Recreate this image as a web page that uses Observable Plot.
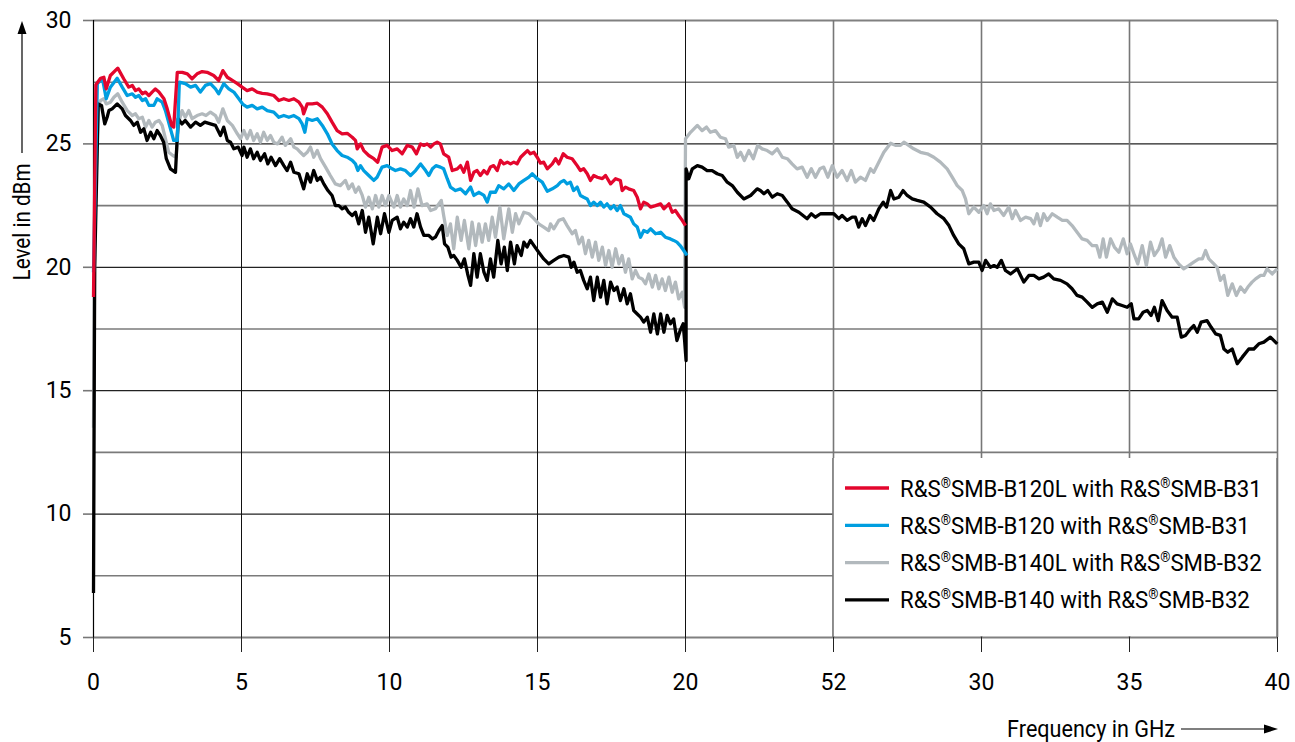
<!DOCTYPE html>
<html><head><meta charset="utf-8">
<script src="https://cdn.jsdelivr.net/npm/d3@7"></script>
<script src="https://cdn.jsdelivr.net/npm/@observablehq/plot@0.6"></script>
<style>
html,body{margin:0;padding:0;background:#fff;}
#chart{position:relative;width:1295px;height:742px;}
</style></head><body><div id="chart"></div>
<script>
const seriesNames = ["R&S®SMB-B120L with R&S®SMB-B31","R&S®SMB-B120 with R&S®SMB-B31","R&S®SMB-B140L with R&S®SMB-B32","R&S®SMB-B140 with R&S®SMB-B32"];
const seriesColors = ["#e3062d","#009ee0","#b2b9bd","#000000"];
const xTicks = [0,5,10,15,20,25,30,35,40];
const xTickLabels = ["0","5","10","15","20","52","30","35","40"];
const yTicks = [5,10,15,20,25,30];
const yHalfGrid = [7.5,12.5,17.5,22.5,27.5];
const xTitle = "Frequency in GHz";
const yTitle = "Level in dBm";

// [frequency GHz, level dBm]
const red = [[0,18.8],[0.08,27.4],[0.24,27.66],[0.35,27.7],[0.43,27.23],[0.57,27.77],[0.82,28.07],[1.02,27.64],[1.19,27.3],[1.31,27.37],[1.42,27.16],[1.53,27.23],[1.65,27.03],[1.76,27.1],[1.87,26.96],[1.98,27.1],[2.09,27.23],[2.21,27.1],[2.38,26.83],[2.49,26.42],[2.64,25.75],[2.71,25.68],[2.83,27.9],[3.0,27.9],[3.17,27.84],[3.33,27.64],[3.5,27.84],[3.67,27.93],[3.84,27.9],[4.06,27.77],[4.23,27.57],[4.37,27.97],[4.52,27.7],[4.69,27.57],[4.86,27.44],[5.02,27.3],[5.19,27.16],[5.36,27.23],[5.53,27.1],[5.7,27.05],[5.87,27.03],[6.09,26.96],[6.26,26.76],[6.43,26.83],[6.6,26.76],[6.77,26.83],[6.94,26.69],[7.05,26.49],[7.1,26.22],[7.22,26.62],[7.39,26.62],[7.56,26.65],[7.73,26.49],[7.9,26.22],[8.06,25.88],[8.23,25.54],[8.4,25.41],[8.57,25.43],[8.74,25.27],[8.85,25.14],[8.91,24.8],[9.02,25.0],[9.13,24.73],[9.3,24.53],[9.47,24.4],[9.6,24.26],[9.75,24.87],[9.92,24.94],[10.09,24.73],[10.26,24.8],[10.43,24.6],[10.6,24.94],[10.77,24.87],[10.91,24.6],[11.05,25.0],[11.16,24.94],[11.27,25.0],[11.39,24.87],[11.5,25.0],[11.61,25.07],[11.72,25.0],[11.83,24.6],[12.0,24.46],[12.12,23.92],[12.29,23.99],[12.4,24.12],[12.51,23.85],[12.63,24.26],[12.74,23.52],[12.85,23.85],[12.96,23.92],[13.07,23.72],[13.19,23.92],[13.3,23.79],[13.41,24.06],[13.52,24.12],[13.64,23.92],[13.75,24.33],[13.86,24.19],[13.98,24.26],[14.09,24.19],[14.2,24.26],[14.31,24.19],[14.43,24.46],[14.55,24.6],[14.66,24.73],[14.76,24.6],[14.88,24.66],[14.99,24.46],[15.1,24.22],[15.21,24.26],[15.33,23.99],[15.5,24.19],[15.61,24.4],[15.72,24.19],[15.87,24.6],[16.0,24.46],[16.17,24.4],[16.34,24.12],[16.45,23.92],[16.56,23.99],[16.68,23.79],[16.79,23.52],[16.9,23.72],[17.02,23.65],[17.19,23.59],[17.3,23.72],[17.47,23.38],[17.64,23.59],[17.8,23.52],[17.86,23.11],[17.97,23.25],[18.08,23.18],[18.25,23.11],[18.37,22.84],[18.48,22.37],[18.59,22.64],[18.71,22.57],[18.82,22.44],[18.99,22.5],[19.16,22.57],[19.27,22.37],[19.44,22.57],[19.55,22.23],[19.66,22.3],[19.77,22.1],[19.89,21.9],[20.0,21.69]];

const blue = [[0,19.8],[0.13,27.44],[0.24,27.57],[0.31,27.6],[0.43,26.83],[0.57,27.3],[0.8,27.66],[0.97,27.3],[1.14,26.96],[1.31,27.03],[1.42,26.89],[1.53,26.96],[1.65,26.76],[1.76,26.83],[1.87,26.56],[2.04,26.56],[2.15,26.83],[2.32,26.69],[2.43,26.35],[2.6,25.61],[2.71,25.14],[2.83,25.14],[2.9,27.5],[3.1,27.44],[3.28,27.3],[3.45,27.37],[3.61,27.1],[3.78,27.37],[3.95,27.44],[4.12,27.23],[4.23,27.03],[4.4,27.44],[4.57,27.23],[4.74,27.1],[4.91,26.83],[5.05,26.6],[5.19,26.49],[5.36,26.56],[5.53,26.42],[5.7,26.49],[5.87,26.35],[6.09,26.29],[6.26,26.08],[6.43,26.15],[6.6,26.08],[6.77,26.15],[6.94,26.02],[7.05,25.81],[7.14,25.47],[7.22,26.02],[7.39,25.95],[7.56,26.02],[7.73,25.75],[7.9,25.41],[8.06,25.0],[8.23,24.73],[8.4,24.53],[8.57,24.46],[8.74,24.33],[8.85,24.19],[8.93,23.92],[9.02,24.12],[9.13,23.92],[9.3,23.72],[9.47,23.52],[9.58,23.65],[9.75,24.06],[9.92,24.12],[10.09,23.99],[10.2,23.92],[10.37,23.99],[10.54,23.92],[10.71,23.72],[10.88,23.92],[11.05,24.19],[11.22,23.92],[11.33,23.72],[11.45,23.99],[11.57,24.12],[11.72,24.06],[11.83,23.99],[11.95,23.59],[12.06,23.25],[12.23,23.11],[12.4,23.18],[12.57,22.98],[12.74,23.25],[12.85,22.91],[13.02,23.04],[13.19,22.91],[13.3,22.64],[13.41,23.04],[13.58,23.04],[13.69,23.31],[13.86,23.18],[14.03,23.38],[14.2,23.11],[14.37,23.38],[14.54,23.52],[14.71,23.65],[14.82,23.79],[14.99,23.59],[15.16,23.45],[15.33,23.08],[15.5,23.18],[15.67,23.31],[15.78,23.45],[15.89,23.52],[16.0,23.38],[16.11,23.45],[16.22,23.11],[16.34,23.25],[16.45,22.91],[16.56,22.84],[16.68,22.77],[16.79,22.5],[16.9,22.64],[17.02,22.5],[17.13,22.64],[17.24,22.44],[17.35,22.57],[17.47,22.37],[17.58,22.5],[17.69,22.3],[17.8,22.5],[17.92,22.17],[18.03,22.1],[18.14,22.03],[18.25,21.76],[18.37,21.63],[18.48,21.22],[18.59,21.49],[18.71,21.42],[18.82,21.56],[18.99,21.36],[19.16,21.42],[19.32,21.22],[19.49,21.15],[19.6,21.09],[19.71,21.02],[19.82,20.88],[19.94,20.68],[20.05,20.48]];

const gray = [[0,13.5],[0.05,22.0],[0.16,26.56],[0.24,26.76],[0.35,26.83],[0.43,26.62],[0.57,26.69],[0.69,26.89],[0.82,27.03],[0.97,26.69],[1.14,26.35],[1.31,26.15],[1.42,26.22],[1.53,26.02],[1.65,26.08],[1.76,25.68],[1.87,25.95],[1.98,25.68],[2.09,25.88],[2.21,25.95],[2.32,25.75],[2.43,25.21],[2.54,24.66],[2.68,24.53],[2.79,24.46],[2.88,25.88],[2.99,26.35],[3.1,26.08],[3.22,26.35],[3.33,26.02],[3.5,26.15],[3.67,26.22],[3.8,26.15],[3.95,26.29],[4.12,26.15],[4.23,25.88],[4.37,26.42],[4.52,25.95],[4.69,25.75],[4.86,25.41],[4.97,25.21],[5.08,25.54],[5.19,25.21],[5.3,25.54],[5.41,25.14],[5.53,25.41],[5.64,25.07],[5.75,25.47],[5.87,25.14],[5.98,25.34],[6.09,25.07],[6.22,25.0],[6.37,25.27],[6.48,24.94],[6.66,25.21],[6.77,24.87],[6.88,24.8],[6.99,24.66],[7.1,24.53],[7.22,24.66],[7.33,24.87],[7.44,24.46],[7.56,24.73],[7.67,24.4],[7.84,24.06],[8.0,23.72],[8.17,23.38],[8.34,23.31],[8.51,23.52],[8.62,23.18],[8.74,23.38],[8.85,23.04],[8.96,23.25],[9.08,22.91],[9.19,22.44],[9.3,22.84],[9.42,22.37],[9.53,22.91],[9.64,22.44],[9.75,22.91],[9.86,22.5],[9.98,22.91],[10.15,22.44],[10.26,22.91],[10.37,22.44],[10.48,22.77],[10.6,22.5],[10.71,23.11],[10.83,22.44],[10.96,23.18],[11.1,22.5],[11.27,22.57],[11.39,22.3],[11.55,22.37],[11.75,22.71],[11.83,22.1],[11.95,21.29],[12.06,21.76],[12.17,20.75],[12.29,22.03],[12.42,21.09],[12.53,21.9],[12.68,20.75],[12.79,21.83],[12.91,20.88],[13.02,21.76],[13.13,21.02],[13.24,21.76],[13.35,21.09],[13.47,22.03],[13.58,21.22],[13.73,22.44],[13.86,21.15],[14.03,22.37],[14.15,21.42],[14.26,22.17],[14.37,21.76],[14.54,22.23],[14.71,22.17],[14.88,21.97],[15.04,21.76],[15.21,21.63],[15.38,21.49],[15.44,21.76],[15.55,21.56],[15.72,21.9],[15.87,21.97],[16.0,21.69],[16.17,21.36],[16.28,21.49],[16.4,20.95],[16.51,21.22],[16.62,20.55],[16.73,21.09],[16.85,20.41],[16.96,21.02],[17.07,20.28],[17.19,20.82],[17.3,20.07],[17.41,20.68],[17.52,20.0],[17.64,20.75],[17.75,20.14],[17.86,20.48],[17.97,19.8],[18.08,20.34],[18.2,19.53],[18.31,19.87],[18.42,19.6],[18.54,19.53],[18.65,19.33],[18.76,19.73],[18.88,19.2],[18.99,19.67],[19.1,19.13],[19.21,19.53],[19.32,19.06],[19.44,19.6],[19.55,18.99],[19.66,19.4],[19.77,18.72],[19.89,18.99],[19.97,18.38],[20.0,25.21],[20.17,25.47],[20.4,25.75],[20.56,25.54],[20.71,25.68],[20.84,25.47],[21.01,25.54],[21.18,25.27],[21.35,25.21],[21.46,24.87],[21.63,24.94],[21.75,24.46],[21.86,24.66],[21.99,24.33],[22.14,24.73],[22.29,24.4],[22.44,24.94],[22.59,24.8],[22.76,24.73],[22.93,24.6],[23.1,24.8],[23.27,24.46],[23.44,24.4],[23.6,24.19],[23.77,23.99],[23.94,24.06],[24.11,23.65],[24.25,23.99],[24.39,23.65],[24.54,23.99],[24.67,24.06],[24.81,23.65],[24.96,24.12],[25.12,23.65],[25.29,23.92],[25.46,23.52],[25.6,23.92],[25.74,23.45],[25.91,23.65],[26.08,23.52],[26.25,23.99],[26.36,23.85],[26.53,24.26],[26.7,24.66],[26.93,25.03],[27.09,24.94],[27.26,24.94],[27.38,25.07],[27.54,24.94],[27.71,24.8],[27.94,24.66],[28.17,24.6],[28.39,24.46],[28.61,24.26],[28.84,23.99],[29.01,23.65],[29.18,23.31],[29.35,23.11],[29.46,22.77],[29.57,22.17],[29.74,22.44],[29.91,22.23],[30.08,22.5],[30.19,22.17],[30.3,22.57],[30.42,22.3],[30.58,22.37],[30.75,22.1],[30.92,22.44],[31.04,21.97],[31.15,22.3],[31.32,21.9],[31.49,22.03],[31.66,21.97],[31.77,21.76],[31.88,22.17],[31.99,21.69],[32.1,22.17],[32.22,21.9],[32.39,22.17],[32.56,22.03],[32.73,21.9],[32.89,21.9],[33.06,21.69],[33.23,21.42],[33.4,21.15],[33.57,21.09],[33.74,20.88],[33.89,20.88],[34.0,20.41],[34.11,21.15],[34.22,20.41],[34.36,21.15],[34.49,20.82],[34.64,20.61],[34.79,21.15],[34.92,20.55],[35.03,20.95],[35.17,20.48],[35.28,20.14],[35.43,20.88],[35.57,20.07],[35.71,21.02],[35.84,20.48],[35.99,20.75],[36.1,21.15],[36.22,20.41],[36.36,20.88],[36.5,20.41],[36.66,20.14],[36.83,19.94],[37.0,20.07],[37.17,20.21],[37.34,20.34],[37.46,20.34],[37.57,20.68],[37.68,20.34],[37.85,20.14],[37.96,20.0],[38.07,19.47],[38.19,19.67],[38.32,18.86],[38.47,19.33],[38.61,18.86],[38.75,19.2],[38.89,18.99],[39.0,19.2],[39.14,19.4],[39.26,19.53],[39.43,19.67],[39.54,19.67],[39.65,19.94],[39.82,19.73],[39.99,19.94]];

const black = [[0,6.8],[0.04,20.0],[0.16,26.62],[0.27,26.56],[0.38,25.81],[0.46,26.08],[0.52,26.35],[0.63,26.42],[0.8,26.62],[0.97,26.42],[1.08,26.15],[1.25,25.95],[1.36,25.75],[1.48,25.88],[1.59,25.47],[1.7,25.61],[1.81,25.14],[1.93,25.47],[2.04,25.21],[2.15,25.54],[2.26,25.34],[2.37,25.07],[2.46,24.4],[2.6,23.99],[2.77,23.85],[2.86,26.02],[2.99,25.81],[3.1,25.95],[3.28,25.68],[3.45,25.88],[3.61,25.75],[3.76,25.88],[3.95,25.81],[4.12,25.75],[4.29,25.34],[4.4,25.68],[4.52,25.14],[4.63,25.07],[4.74,24.8],[4.89,24.87],[5.02,24.53],[5.08,24.87],[5.19,24.46],[5.3,24.8],[5.41,24.4],[5.53,24.66],[5.64,24.33],[5.78,24.6],[5.89,24.19],[6.0,24.46],[6.15,24.12],[6.29,24.4],[6.43,24.12],[6.54,23.92],[6.66,24.26],[6.77,23.85],[6.94,23.79],[7.1,23.18],[7.22,23.79],[7.33,23.45],[7.44,23.92],[7.56,23.52],[7.67,23.65],[7.78,23.38],[7.92,23.11],[8.06,22.91],[8.17,22.5],[8.29,22.5],[8.4,22.37],[8.51,22.44],[8.62,22.23],[8.74,22.1],[8.85,22.23],[8.96,21.76],[9.08,22.3],[9.19,21.42],[9.3,22.03],[9.45,20.95],[9.59,22.03],[9.7,21.36],[9.83,22.17],[9.98,21.42],[10.09,21.9],[10.26,22.03],[10.37,21.56],[10.48,21.83],[10.6,21.63],[10.71,21.97],[10.82,21.63],[10.93,22.17],[11.05,21.63],[11.16,21.29],[11.33,21.29],[11.45,21.15],[11.55,21.22],[11.67,21.49],[11.78,21.69],[11.86,20.95],[11.97,20.82],[12.08,20.41],[12.17,20.48],[12.29,20.28],[12.42,20.0],[12.53,20.34],[12.64,19.73],[12.74,19.27],[12.85,20.55],[12.96,19.6],[13.07,20.55],[13.19,19.8],[13.3,19.47],[13.41,20.34],[13.52,19.6],[13.66,21.09],[13.77,20.14],[13.88,20.82],[13.98,19.87],[14.09,21.02],[14.22,20.14],[14.31,20.88],[14.45,20.48],[14.54,21.02],[14.65,20.82],[14.76,21.09],[14.88,20.88],[15.04,20.61],[15.21,20.34],[15.38,20.14],[15.55,20.28],[15.72,20.41],[15.89,20.48],[16.06,20.41],[16.14,20.0],[16.23,20.21],[16.34,19.8],[16.45,19.87],[16.56,19.47],[16.68,19.13],[16.79,19.6],[16.9,18.65],[17.02,19.6],[17.13,18.79],[17.24,19.47],[17.35,18.52],[17.47,19.4],[17.58,19.06],[17.69,19.2],[17.8,18.65],[17.92,19.13],[18.03,18.52],[18.14,18.93],[18.25,18.25],[18.37,18.11],[18.48,17.98],[18.59,17.78],[18.71,17.98],[18.82,17.37],[18.93,18.11],[19.05,17.3],[19.16,18.11],[19.27,17.37],[19.38,18.05],[19.49,17.71],[19.6,17.91],[19.71,17.03],[19.82,17.44],[19.92,17.71],[19.97,17.03],[20.02,16.22],[20.02,23.99],[20.11,23.59],[20.23,23.99],[20.4,24.12],[20.56,24.06],[20.73,23.92],[20.9,23.92],[21.07,23.79],[21.24,23.72],[21.41,23.45],[21.58,23.31],[21.75,23.04],[21.97,22.77],[22.2,22.91],[22.42,23.18],[22.53,23.11],[22.65,22.98],[22.78,23.11],[22.93,22.84],[23.1,22.98],[23.27,22.91],[23.44,22.64],[23.6,22.37],[23.83,22.23],[24.11,21.97],[24.25,22.17],[24.39,22.03],[24.56,22.17],[24.79,22.17],[25.01,22.17],[25.18,21.97],[25.29,22.1],[25.46,21.9],[25.63,22.03],[25.74,22.03],[25.85,21.63],[25.97,21.97],[26.08,21.69],[26.23,22.1],[26.36,21.9],[26.53,22.37],[26.68,22.64],[26.79,22.44],[26.93,23.11],[27.04,22.77],[27.21,22.84],[27.35,23.11],[27.49,22.91],[27.66,22.77],[27.83,22.71],[28.05,22.64],[28.28,22.44],[28.5,22.17],[28.73,21.97],[28.9,21.69],[29.06,21.29],[29.23,20.95],[29.4,20.75],[29.57,20.14],[29.74,20.21],[29.91,20.21],[30.02,19.87],[30.14,20.28],[30.3,20.0],[30.42,20.07],[30.53,20.0],[30.67,20.28],[30.81,19.87],[30.98,19.73],[31.21,19.94],[31.32,19.67],[31.43,19.4],[31.6,19.67],[31.77,19.67],[31.94,19.53],[32.1,19.6],[32.27,19.73],[32.44,19.53],[32.67,19.47],[32.89,19.33],[33.06,19.13],[33.23,18.86],[33.4,18.79],[33.57,18.59],[33.74,18.38],[33.91,18.52],[34.08,18.59],[34.25,18.18],[34.42,18.72],[34.58,18.52],[34.75,18.45],[34.92,18.38],[35.06,18.52],[35.15,17.91],[35.31,17.91],[35.46,18.18],[35.6,18.25],[35.73,18.05],[35.84,18.38],[35.97,17.84],[36.1,18.65],[36.27,18.25],[36.44,17.98],[36.61,17.98],[36.75,17.17],[36.89,17.24],[37.06,17.5],[37.17,17.64],[37.29,17.37],[37.42,17.78],[37.62,17.84],[37.76,17.57],[37.91,17.3],[38.07,17.24],[38.19,16.69],[38.32,16.56],[38.47,16.69],[38.64,16.09],[38.81,16.36],[39.03,16.69],[39.2,16.69],[39.37,16.9],[39.54,16.97],[39.76,17.17],[39.99,16.9]];

// draw order: gray, black, blue, red
const drawOrder = [2,3,1,0];
const seriesData = [red, blue, gray, black];
const rows = [];
drawOrder.forEach(i => seriesData[i].forEach(([f, v]) => rows.push({series: seriesNames[i], f, v})));

const FONT = 'Roboto, "Liberation Sans", sans-serif';

const plot = Plot.plot({
  width: 1295, height: 742,
  marginLeft: 93, marginRight: 18, marginTop: 20, marginBottom: 105,
  style: {fontFamily: FONT, fontSize: "23px", color: "#000", background: "#fff", overflow: "visible"},
  x: {domain: [0, 40]},
  y: {domain: [5, 30]},
  color: {domain: seriesNames, range: seriesColors},
  marks: [
    Plot.ruleY(yHalfGrid, {stroke: "#7a7a7a", strokeWidth: 1.6}),
    Plot.ruleY(yTicks.filter(d => d > 5 && d < 30), {stroke: "#222", strokeWidth: 1.2}),
    Plot.ruleY([5, 30], {stroke: "#808080", strokeWidth: 2}),
    Plot.ruleX(xTicks.filter(d => d > 0 && d <= 20), {stroke: "#111", strokeWidth: 1}),
    Plot.ruleX(xTicks.filter(d => d > 20), {stroke: "#777", strokeWidth: 1.6}),
    Plot.ruleX([0], {stroke: "#000", strokeWidth: 1.2}),
    Plot.axisY({ticks: yTicks, tickSize: 10, tickPadding: 12, label: null, stroke: "#777", strokeWidth: 1.6}),
    Plot.axisX({ticks: xTicks, tickFormat: d => xTickLabels[xTicks.indexOf(d)], tickSize: 15, tickPadding: 21, label: null, stroke: "#222", strokeWidth: 1}),
    Plot.line(rows, {x: "f", y: "v", z: "series", stroke: "series", strokeWidth: 3.3, strokeLinejoin: "round", strokeLinecap: "butt"})
  ]
});
document.getElementById("chart").appendChild(plot);

const svg = d3.select(plot);
const sx = plot.scale("x").apply, sy = plot.scale("y").apply;

// legend box
const lx0 = sx(25), lx1 = sx(40), ly1 = sy(5), ly0 = sy(5) - 179;
const lg = svg.append("g").attr("text-anchor", "start");
lg.append("rect").attr("x", lx0).attr("y", ly0).attr("width", lx1 - lx0).attr("height", ly1 - ly0 - 1).attr("fill", "#fff");
lg.append("line").attr("x1", lx0).attr("x2", lx0).attr("y1", ly0).attr("y2", ly1).attr("stroke", "#777").attr("stroke-width", 1.6);
lg.append("line").attr("x1", lx1).attr("x2", lx1).attr("y1", ly0).attr("y2", ly1).attr("stroke", "#777").attr("stroke-width", 1.6);
const legendTexts = [];
seriesNames.forEach((name, i) => {
  const cy = ly0 + 30 + i * 37.3;
  lg.append("line").attr("x1", lx0 + 12).attr("x2", lx0 + 56).attr("y1", cy).attr("y2", cy)
    .attr("stroke", seriesColors[i]).attr("stroke-width", 3.3);
  const t = lg.append("text").attr("x", 0).attr("y", 0)
    .attr("data-tx", lx0 + 67).attr("data-ty", cy + 8.5)
    .attr("text-anchor", "start")
    .attr("font-family", FONT).attr("font-size", 24).attr("fill", "#000");
  const parts = name.split("®");
  parts.forEach((p, j) => {
    if (j > 0) t.append("tspan").attr("font-size", 14).attr("dy", -9).text("®");
    t.append("tspan").attr("dy", j > 0 ? 9 : 0).text(p);
  });
  legendTexts.push(t);
});
// condense legend texts horizontally (reference uses a condensed face)
const w0 = legendTexts[0].node().getComputedTextLength();
const k = w0 > 0 ? (lx1 - 15 - (lx0 + 67)) / w0 : 1;
legendTexts.forEach(t => {
  t.attr("transform", `translate(${t.attr("data-tx")},${t.attr("data-ty")}) scale(${k},1)`);
});

// y title with arrow
const yTx = 22, yTc = 222;
const yt = svg.append("text").attr("x", 0).attr("y", 0)
  .attr("text-anchor", "middle").attr("font-family", FONT).attr("font-size", 24).attr("fill", "#000").text(yTitle);
const ytw = yt.node().getComputedTextLength();
const yk = ytw > 0 ? 117 / ytw : 1;
yt.attr("transform", `translate(${yTx + 8},${yTc}) rotate(-90) scale(${yk},1)`);
svg.append("line").attr("x1", yTx).attr("x2", yTx).attr("y1", 153).attr("y2", 32).attr("stroke", "#000").attr("stroke-width", 1.2);
svg.append("path").attr("d", `M${yTx},21 L${yTx - 4.5},34 L${yTx + 4.5},34 Z`).attr("fill", "#000");

// x title with arrow
const xt = svg.append("text").attr("x", 0).attr("y", 0).attr("text-anchor", "end")
  .attr("font-family", FONT).attr("font-size", 24).attr("fill", "#000").text(xTitle);
const xtw = xt.node().getComputedTextLength();
const xk = xtw > 0 ? 168 / xtw : 1;
xt.attr("transform", `translate(1175,737) scale(${xk},1)`);
svg.append("line").attr("x1", 1181).attr("x2", 1266).attr("y1", 729).attr("y2", 729).attr("stroke", "#000").attr("stroke-width", 1.2);
svg.append("path").attr("d", "M1278,729 L1264,724.5 L1264,733.5 Z").attr("fill", "#000");
</script>
</body></html>
